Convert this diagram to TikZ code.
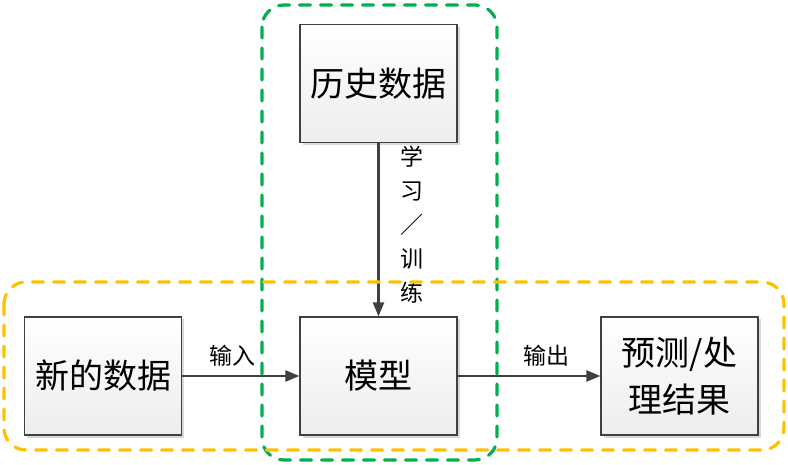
\documentclass[tikz,border=0pt]{standalone}
\usepackage{fontspec}
\setmainfont{Noto Sans CJK SC}
\usetikzlibrary{arrows.meta,shadows}
\definecolor{lineg}{HTML}{404040}
\definecolor{frgreen}{HTML}{00B050}
\definecolor{frorange}{HTML}{FFC000}
\tikzset{
  box/.style={draw=lineg, line width=1.1pt, top color=white, bottom color=black!7,
    minimum width=157pt, minimum height=118pt, inner sep=0pt, align=center,
    font=\fontsize{34}{47}\selectfont,
    drop shadow={shadow xshift=2.5pt, shadow yshift=-2.5pt, fill=black!25, opacity=0.6}},
  arr/.style={draw=lineg, line width=2.2pt, -{Triangle[length=14pt,width=11pt]}},
  lbl/.style={font=\fontsize{23}{34}\selectfont, align=center, inner sep=0pt},
  frame/.style={line width=3.2pt, dash pattern=on 11pt off 10pt, line cap=round, rounded corners=22pt}
}
\begin{document}
\begin{tikzpicture}[x=1pt,y=-1pt]
\useasboundingbox (0,0) rectangle (788,465);
\node[box] (hist) at (378.5,83.5) {历史数据};
\node[box] (new) at (103,376) {新的数据};
\node[box] (model) at (378.5,376) {模型};
\node[box] (res) at (679.5,376) {预测/处\\理结果};
\draw[arr] (new.east) -- (model.west) node[lbl, pos=0.43, above=9pt] {输入};
\draw[arr] (model.east) -- (res.west) node[lbl, pos=0.62, above=9pt] {输出};
\draw[arr] (hist.south) -- (model.north) node[lbl, pos=0.47, right=21pt] {学\\习\\／\\训\\练};
\draw[frame, draw=frgreen] (262,5) rectangle (497,460);
\draw[frame, draw=frorange] (4,282) rectangle (784,450);
\end{tikzpicture}
\end{document}
